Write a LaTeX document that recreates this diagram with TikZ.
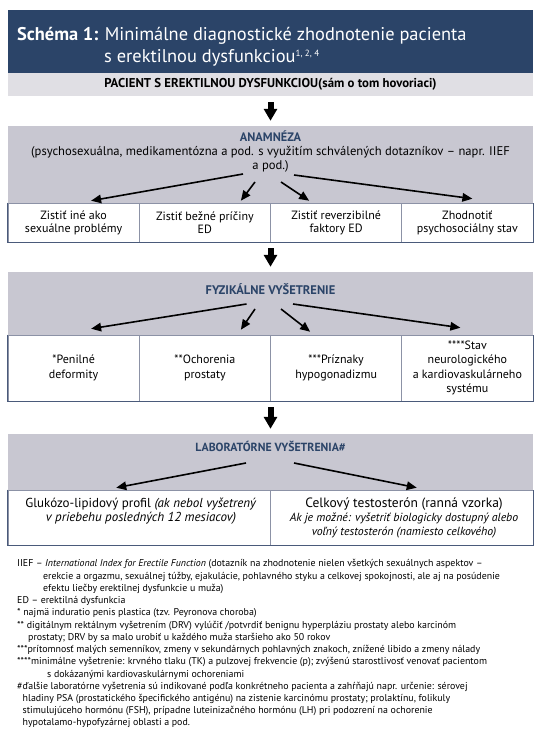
\documentclass[tikz,border=0pt]{standalone}
\usepackage{fontspec}
\setmainfont{PT Sans}
\usetikzlibrary{arrows.meta}
\definecolor{navy}{HTML}{2B4468}
\definecolor{bandgray}{HTML}{E0DFE4}
\definecolor{boxgray}{HTML}{C8C7D1}
\definecolor{cellline}{HTML}{8C92A6}
\definecolor{frameblue}{HTML}{4A5A7A}

\begin{document}
\begin{tikzpicture}[x=1pt,y=-1pt]
\tikzstyle{every node}=[inner sep=0pt];
\tikzstyle{graybox}=[fill=boxgray, minimum width=525pt];
\tikzstyle{cell}=[draw=cellline, line width=0.6pt, fill=white, align=center, minimum width=131.25pt, font=\fontsize{12}{13}\selectfont];
\tikzstyle{labcell}=[draw=cellline, line width=0.6pt, fill=white, minimum width=262.5pt, minimum height=55pt];
\tikzstyle{header}=[text=navy, font=\bfseries\fontsize{12.5}{14}\selectfont];
\tikzstyle{cellframe}=[draw=frameblue, line width=1pt];
\tikzstyle{diagarrow}=[line width=1.6pt, -{Triangle[length=10pt,width=8.5pt]}];
\tikzstyle{downarrow}=[line width=6pt, -{Triangle[length=12pt,width=13pt]}, shorten <=6pt, shorten >=5pt];
\useasboundingbox (0,0) rectangle (544,730);

% title
\node[fill=navy, minimum width=525pt, minimum height=63pt] (banner) at (270.5,41.5) {};
\node[text=white, anchor=base west, font=\fontsize{18.4}{22}\selectfont] (title1) at (17,41) {\textbf{Schéma 1:} Minimálne diagnostické zhodnotenie pacienta};
\node[text=white, anchor=base west, font=\fontsize{18.4}{22}\selectfont] (title2) at (104,63) {s erektilnou dysfunkciou\raisebox{6.5pt}{\fontsize{9}{9}\selectfont 1, 2, 4}};
\node[fill=bandgray, minimum width=525pt, minimum height=23pt, font=\bfseries\fontsize{12.8}{13}\selectfont] (patient) at (270.5,84.5) {PACIENT S EREKTILNOU DYSFUNKCIOU(sám o tom hovoriaci)};

% anamneza
\node[graybox, minimum height=77pt] (anam) at (270.5,164.5) {};
\node[align=center, font=\fontsize{12.6}{14}\selectfont] (anamtxt) at (270.5,152) {{\color{navy}\bfseries\fontsize{12.3}{14}\selectfont ANAMNÉZA}\\(psychosexuálna, medikamentózna a pod. s využitím schválených dotazníkov – napr. IIEF\\a pod.)};
\node[cell, minimum height=39pt] (a1) at (73.625,222.5) {Zistiť iné ako\\sexuálne problémy};
\node[cell, minimum height=39pt] (a2) at (204.875,222.5) {Zistiť bežné príčiny\\ED};
\node[cell, minimum height=39pt] (a3) at (336.125,222.5) {Zistiť reverzibilné\\faktory ED};
\node[cell, minimum height=39pt] (a4) at (467.375,222.5) {Zhodnotiť\\psychosociálny stav};
\draw[cellframe] (a1.north west) -- (a1.south west) -- (a4.south east) -- (a4.north east);
\coordinate (an1) at (243,174);
\coordinate (an2) at (255,182);
\coordinate (an3) at (281,182);
\coordinate (an4) at (294,175);
\draw[diagarrow] (an1) -- ([xshift=17.5pt,yshift=2pt]a1.north);
\draw[diagarrow] (an2) -- ([xshift=36pt,yshift=2pt]a2.north);
\draw[diagarrow] (an3) -- ([xshift=-27pt,yshift=2pt]a3.north);
\draw[diagarrow] (an4) -- ([xshift=5pt,yshift=4pt]a4.north);

% fyzikalne vysetrenie
\node[graybox, minimum height=63pt] (fyz) at (270.5,303.5) {};
\node[header] (fyzhd) at (270.5,289) {FYZIKÁLNE VYŠETRENIE};
\node[cell, minimum height=66pt, font=\fontsize{12}{14.5}\selectfont] (f1) at (73.625,368) {*Penilné\\deformity};
\node[cell, minimum height=66pt, font=\fontsize{12}{14.5}\selectfont] (f2) at (204.875,368) {**Ochorenia\\prostaty};
\node[cell, minimum height=66pt, font=\fontsize{12}{14.5}\selectfont] (f3) at (336.125,368) {***Príznaky\\hypogonadizmu};
\node[cell, minimum height=66pt, font=\fontsize{12}{14.5}\selectfont] (f4) at (467.375,368) {****Stav\\neurologického\\a kardiovaskulárneho\\systému};
\draw[cellframe] (f1.north west) -- (f1.south west) -- (f4.south east) -- (f4.north east);
\coordinate (fs1) at (246.5,304);
\coordinate (fs2) at (255,309);
\coordinate (fs3) at (281,309);
\coordinate (fs4) at (293,304);
\draw[diagarrow] (fs1) -- ([xshift=17.5pt,yshift=6pt]f1.north);
\draw[diagarrow] (fs2) -- ([xshift=36pt,yshift=5pt]f2.north);
\draw[diagarrow] (fs3) -- ([xshift=-26pt,yshift=3pt]f3.north);
\draw[diagarrow] (fs4) -- ([xshift=-7pt,yshift=7pt]f4.north);

% laboratorne vysetrenia
\node[graybox, minimum height=56pt] (lab) at (270.5,462) {};
\node[header, font=\bfseries\fontsize{11.8}{14}\selectfont] (labhd) at (270.5,446) {LABORATÓRNE VYŠETRENIA\#};
\node[labcell] (l1) at (139.25,517.5) {};
\node[labcell] (l2) at (401.75,517.5) {};
\draw[cellframe] (l1.north west) -- (l1.south west) -- (l2.south east) -- (l2.north east);
\node[anchor=north, align=center, font=\fontsize{13}{14}\selectfont] (l1txt) at (141,498) {Glukózo-lipidový profil \textit{(ak nebol vyšetrený}\\\textit{v priebehu posledných 12 mesiacov)}};
\node[anchor=north, align=center, font=\fontsize{13.5}{14}\selectfont] (l2txt) at (404,498) {Celkový testosterón (ranná vzorka)\\{\fontsize{11.8}{14}\selectfont\itshape Ak je možné: vyšetriť biologicky dostupný alebo}\\{\fontsize{11.8}{14}\selectfont\itshape voľný testosterón (namiesto celkového)}};
\coordinate (ls1) at (246,463);
\coordinate (ls2) at (294,463);
\draw[diagarrow] (ls1) -- ([xshift=-23pt,yshift=2pt]l1.north);
\draw[diagarrow] (ls2) -- ([xshift=15pt,yshift=2pt]l2.north);

% big arrows between the levels
\draw[downarrow] (patient.south) -- (anam.north);
\draw[downarrow] (a1.south -| anam.south) -- (fyz.north);
\draw[downarrow] (f1.south -| fyz.south) -- (lab.north);

% notes
\node[anchor=north west, align=left, font=\fontsize{9.9}{12.23}\selectfont] (notes) at (17,559.5) {%
IIEF – \textit{International Index for Erectile Function} (dotazník na zhodnotenie nielen všetkých sexuálnych aspektov –\\
\hspace*{26pt}erekcie a orgazmu, sexuálnej túžby, ejakulácie, pohlavného styku a celkovej spokojnosti, ale aj na posúdenie\\
\hspace*{26pt}efektu liečby erektilnej dysfunkcie u muža)\\
ED – erektilná dysfunkcia\\
* najmä induratio penis plastica (tzv. Peyronova choroba)\\
** digitálnym rektálnym vyšetrením (DRV) vylúčiť /potvrdiť benignu hyperpláziu prostaty alebo karcinóm\\
\hspace*{11pt}prostaty; DRV by sa malo urobiť u každého muža staršieho ako 50 rokov\\
***prítomnosť malých semenníkov, zmeny v sekundárnych pohlavných znakoch, znížené libido a zmeny nálady\\
****minimálne vyšetrenie: krvného tlaku (TK) a pulzovej frekvencie (p); zvýšenú starostlivosť venovať pacientom\\
\hspace*{30pt}s dokázanými kardiovaskulárnymi ochoreniami\\
\#ďalšie laboratórne vyšetrenia sú indikované podľa konkrétneho pacienta a zahŕňajú napr. určenie: sérovej\\
\hspace*{5.5pt}hladiny PSA (prostatického špecifického antigénu) na zistenie karcinómu prostaty; prolaktínu, folikuly\\
\hspace*{5.5pt}stimulujúceho hormónu (FSH), prípadne luteinizačného hormónu (LH) pri podozrení na ochorenie\\
\hspace*{5.5pt}hypotalamo-hypofyzárnej oblasti a pod.};
\end{tikzpicture}
\end{document}
